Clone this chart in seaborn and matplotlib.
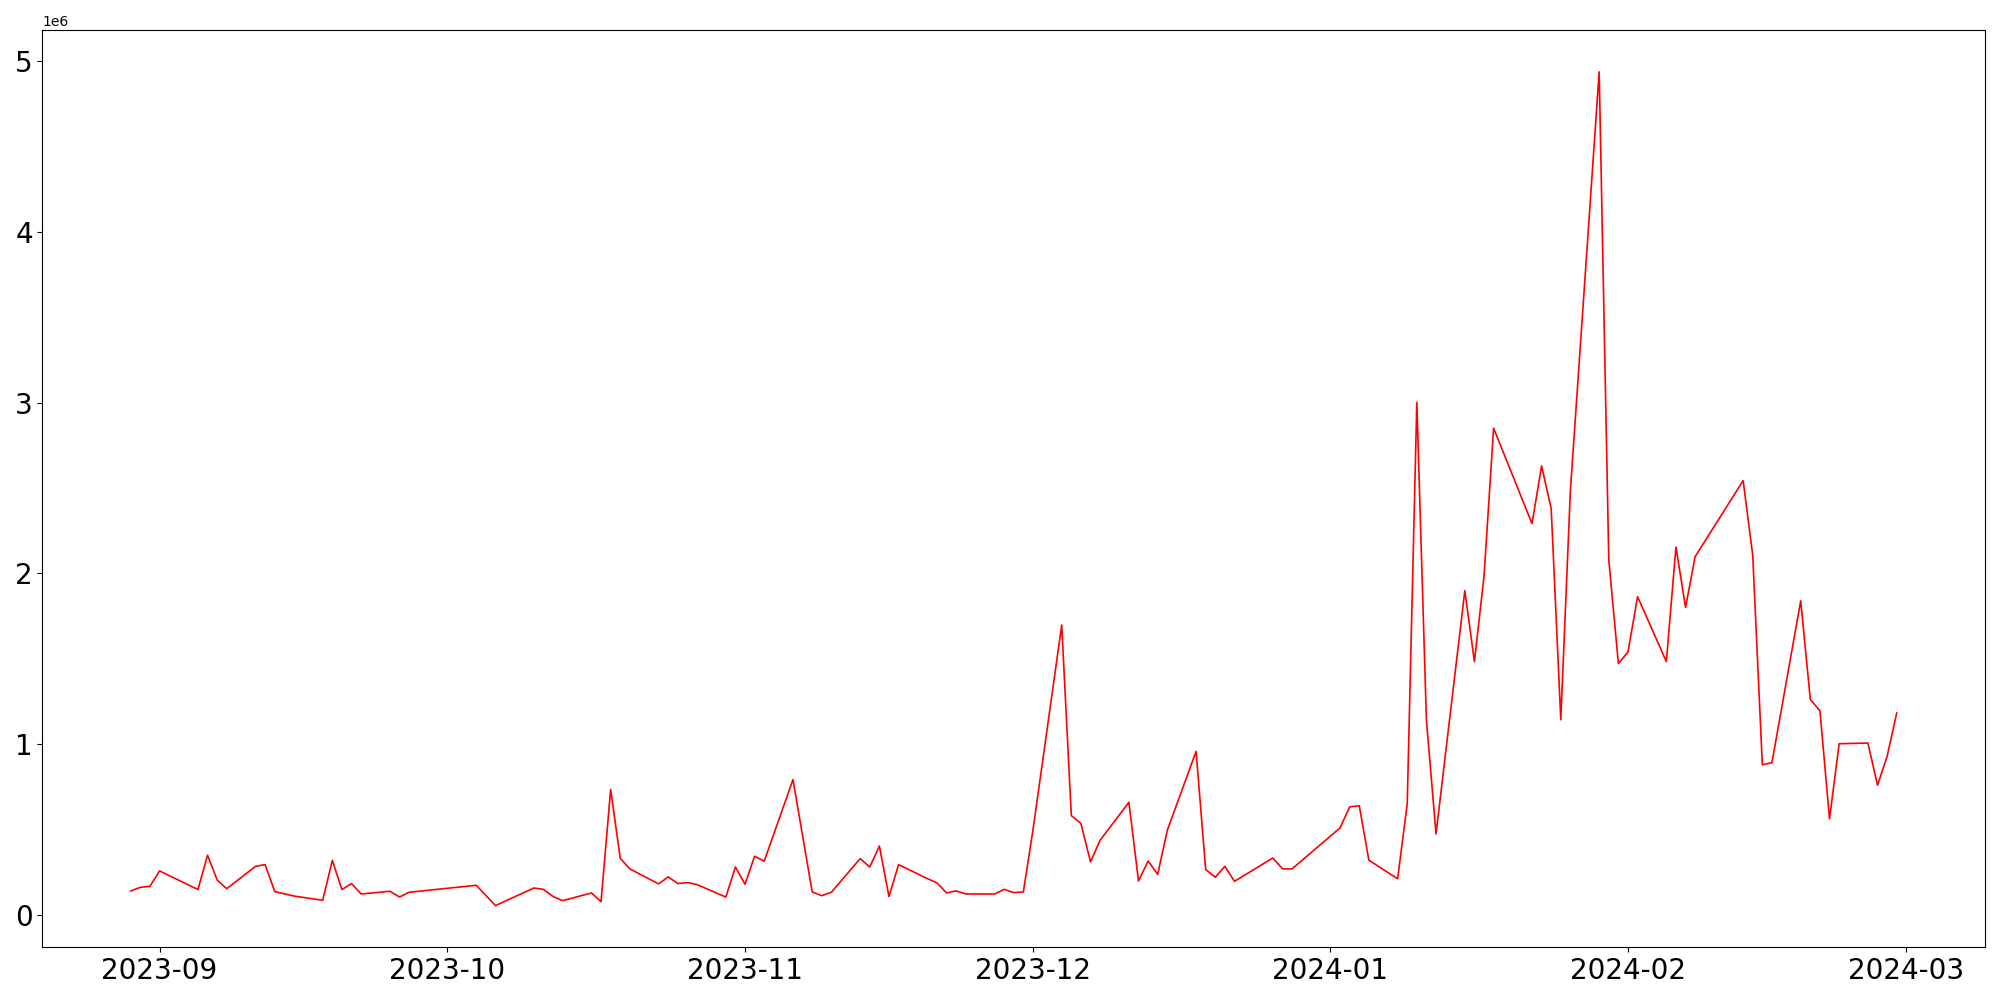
import matplotlib
matplotlib.use("Agg")
import matplotlib.pyplot as plt
import seaborn as sns
import pandas as pd

# 日期与数值（单位 1e6，读自原图）
dates = [
    "2023-08-29", "2023-08-30", "2023-08-31", "2023-09-01", "2023-09-05", "2023-09-06",
    "2023-09-07", "2023-09-08", "2023-09-11", "2023-09-12", "2023-09-13", "2023-09-15",
    "2023-09-18", "2023-09-19", "2023-09-20", "2023-09-21", "2023-09-22", "2023-09-25",
    "2023-09-26", "2023-09-27", "2023-10-04", "2023-10-06", "2023-10-10", "2023-10-11",
    "2023-10-12", "2023-10-13", "2023-10-16", "2023-10-17", "2023-10-18", "2023-10-19",
    "2023-10-20", "2023-10-23", "2023-10-24", "2023-10-25", "2023-10-26", "2023-10-27",
    "2023-10-30", "2023-10-31", "2023-11-01", "2023-11-02", "2023-11-03", "2023-11-06",
    "2023-11-08", "2023-11-09", "2023-11-10", "2023-11-13", "2023-11-14", "2023-11-15",
    "2023-11-16", "2023-11-17", "2023-11-20", "2023-11-21", "2023-11-22", "2023-11-23",
    "2023-11-24", "2023-11-27", "2023-11-28", "2023-11-29", "2023-11-30", "2023-12-01",
    "2023-12-04", "2023-12-05", "2023-12-06", "2023-12-07", "2023-12-08", "2023-12-11",
    "2023-12-12", "2023-12-13", "2023-12-14", "2023-12-15", "2023-12-18", "2023-12-19",
    "2023-12-20", "2023-12-21", "2023-12-22", "2023-12-26", "2023-12-27", "2023-12-28",
    "2024-01-02", "2024-01-03", "2024-01-04", "2024-01-05", "2024-01-08", "2024-01-09",
    "2024-01-10", "2024-01-11", "2024-01-12", "2024-01-15", "2024-01-16", "2024-01-17",
    "2024-01-18", "2024-01-22", "2024-01-23", "2024-01-24", "2024-01-25", "2024-01-26",
    "2024-01-29", "2024-01-30", "2024-01-31", "2024-02-01", "2024-02-02", "2024-02-05",
    "2024-02-06", "2024-02-07", "2024-02-08", "2024-02-13", "2024-02-14", "2024-02-15",
    "2024-02-16", "2024-02-19", "2024-02-20", "2024-02-21", "2024-02-22", "2024-02-23",
    "2024-02-26", "2024-02-27", "2024-02-28", "2024-02-29",
]

values = [
    0.140, 0.161, 0.167, 0.257, 0.148, 0.349,
    0.204, 0.153, 0.284, 0.294, 0.136, 0.110,
    0.085, 0.319, 0.148, 0.183, 0.122, 0.138,
    0.104, 0.132, 0.173, 0.054, 0.157, 0.149,
    0.107, 0.083, 0.128, 0.077, 0.734, 0.331,
    0.269, 0.181, 0.222, 0.183, 0.189, 0.177,
    0.104, 0.280, 0.179, 0.343, 0.314, 0.792,
    0.134, 0.112, 0.132, 0.329, 0.280, 0.403,
    0.107, 0.294, 0.212, 0.187, 0.128, 0.140,
    0.122, 0.122, 0.149, 0.130, 0.134, 0.495,
    1.697, 0.581, 0.535, 0.310, 0.437, 0.659,
    0.198, 0.315, 0.237, 0.495, 0.957, 0.265,
    0.220, 0.284, 0.196, 0.333, 0.269, 0.269,
    0.509, 0.632, 0.639, 0.320, 0.211, 0.650,
    3.001, 1.139, 0.474, 1.898, 1.483, 1.982,
    2.850, 2.291, 2.629, 2.379, 1.142, 2.485,
    4.937, 2.080, 1.472, 1.539, 1.863, 1.483,
    2.154, 1.800, 2.098, 2.543, 2.105, 0.879,
    0.891, 1.839, 1.261, 1.195, 0.562, 1.002,
    1.006, 0.759, 0.928, 1.182,
]

df = pd.DataFrame({"date": pd.to_datetime(dates), "value": [v * 1e6 for v in values]})

plt.figure(figsize=(20, 10), dpi=100)
sns.lineplot(data=df, x="date", y="value", color="red", linewidth=1.2)
plt.xlabel("")
plt.ylabel("")
plt.xticks(fontsize=20)
plt.yticks(fontsize=20)
plt.tight_layout()
plt.savefig("out.png")
